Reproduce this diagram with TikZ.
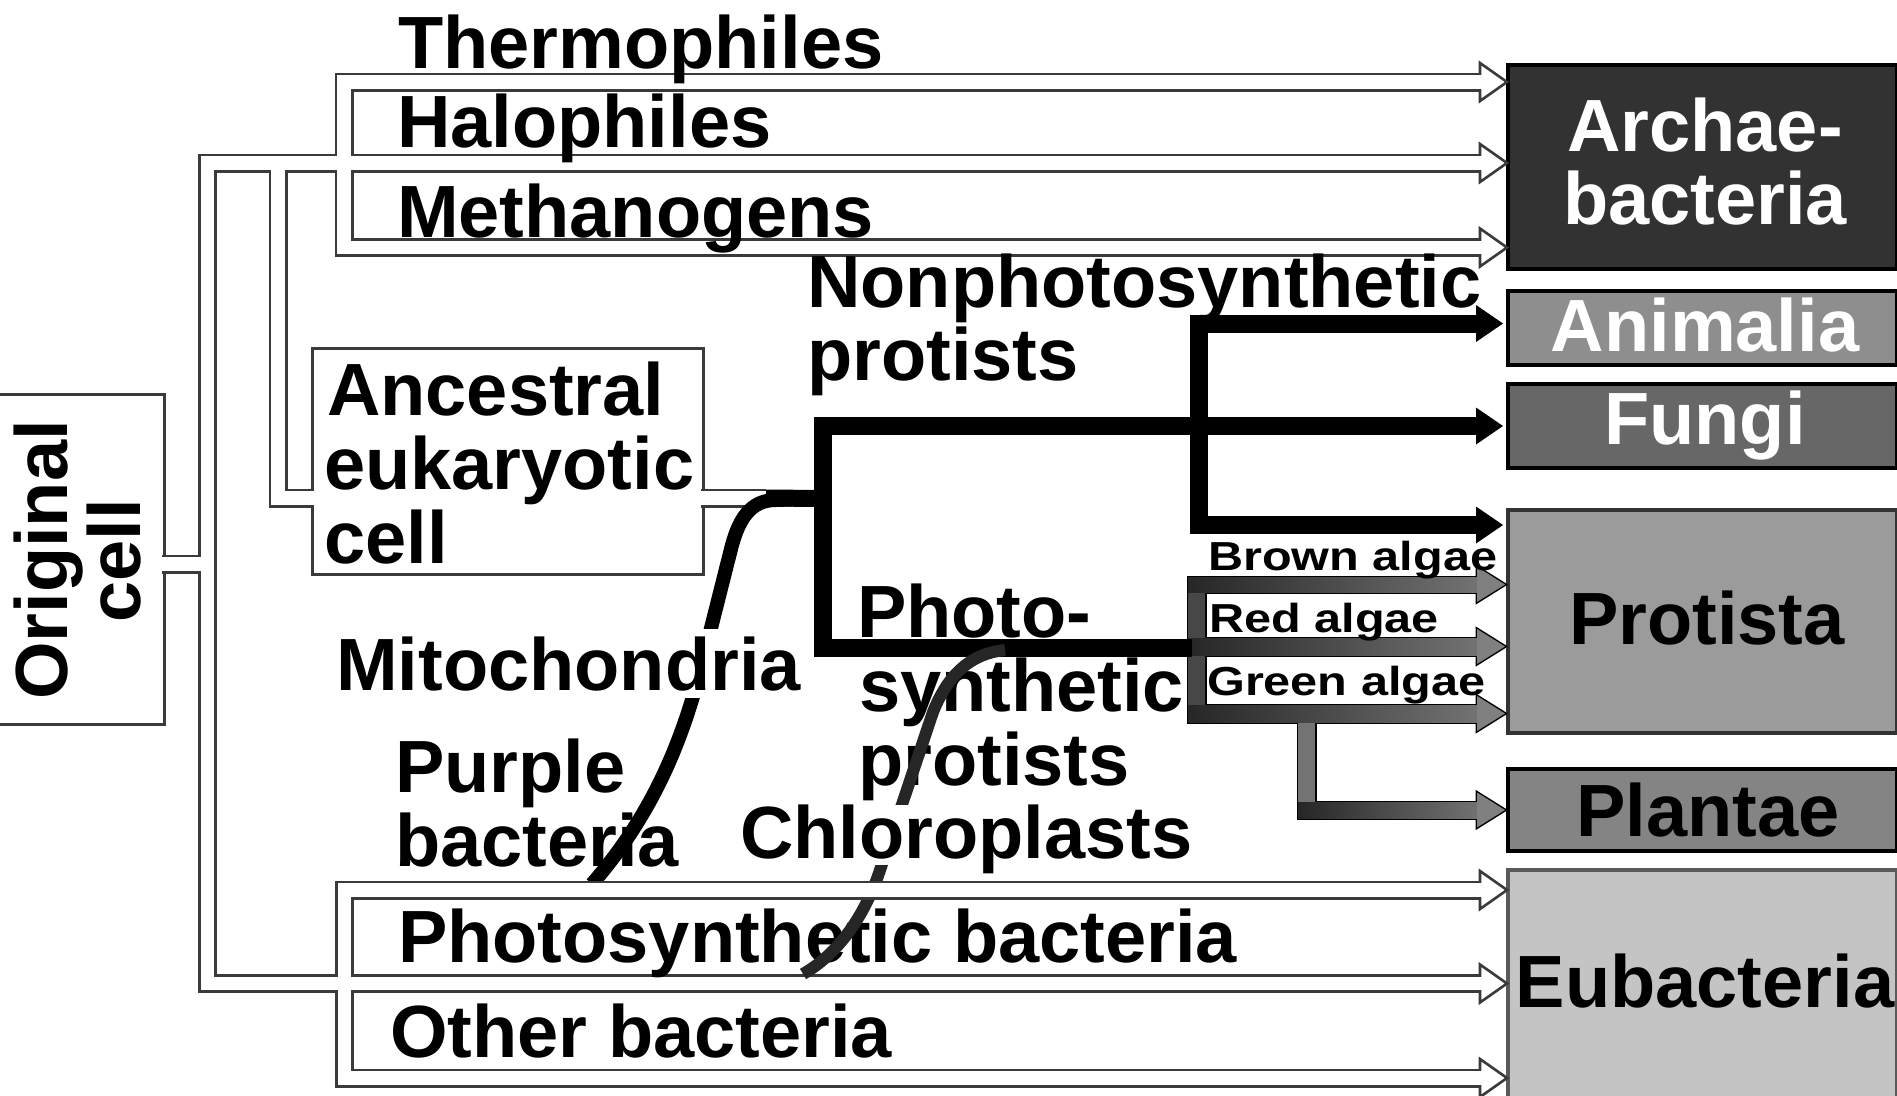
\documentclass[tikz,border=0pt]{standalone}
\usepackage{fontspec}
\setmainfont{Liberation Sans}
\usepackage{graphicx}
\usetikzlibrary{calc}
\definecolor{pipecol}{HTML}{3A3A3A}
\definecolor{archaecol}{HTML}{323232}
\definecolor{animcol}{HTML}{8E8E8E}
\definecolor{fungicol}{HTML}{676767}
\definecolor{protcol}{HTML}{9B9B9B}
\definecolor{plantcol}{HTML}{848484}
\definecolor{eubcol}{HTML}{C4C4C4}
\definecolor{chlorocol}{HTML}{262626}
\begin{document}
\begin{tikzpicture}[x=1pt,y=-1pt,
  bigtxt/.style={font=\fontsize{74}{80}\selectfont\bfseries, inner sep=0pt},
  lab/.style={bigtxt, anchor=base west},
  smalltxt/.style={font=\fontsize{40.5}{45}\selectfont\bfseries, inner sep=0pt, anchor=base west},
  ktxt/.style={bigtxt, anchor=base},
  kbox/.style={draw=black, line width=3.5pt, anchor=north west, minimum width=389pt, inner sep=0pt},
  cellbox/.style={draw=pipecol, line width=3pt, fill=white, anchor=north west, inner sep=0pt},
  pipeout/.style={line width=19pt, draw=pipecol, line join=miter, line cap=butt},
  pipein/.style={line width=13.5pt, draw=white, line join=miter, line cap=butt, shorten >=-4pt, shorten <=-4pt},
  openhead/.style={draw=pipecol, line width=2.6pt, fill=white, line join=miter},
  blackbar/.style={line width=18pt, draw=black, line join=miter, line cap=butt},
  algout/.style={draw=black, line width=3pt, line join=miter},
  algfill/.style={left color=black!85, middle color=black!30, right color=black!55},
  mitocurve/.style={line width=14pt, draw=black},
  chlorocurve/.style={line width=12pt, draw=chlorocol},
]
\fill[white] (0,0) rectangle (1897,1095);
\useasboundingbox (0,0) rectangle (1897,1095);

% ---------- boxes ----------
\node[cellbox, minimum width=171pt, minimum height=330pt] (orig) at (-8,393) {};
\node[cellbox, minimum width=391pt, minimum height=226pt] (anc) at (311,347) {};

\node[kbox, fill=archaecol, minimum height=204pt] (archae) at (1506,63) {};
\node[kbox, fill=animcol, minimum height=74pt] (anim) at (1506,289) {};
\node[kbox, fill=fungicol, minimum height=84pt] (fungi) at (1506,382) {};
\node[kbox, fill=protcol, draw=black!80, minimum height=223pt] (prot) at (1506,508) {};
\node[kbox, fill=plantcol, minimum height=82pt] (plant) at (1506,767) {};
\node[kbox, fill=eubcol, draw=black!65, minimum height=240pt] (eub) at (1506,868) {};

% ---------- pipe coordinates ----------
\coordinate (oEx) at (162,564);
\coordinate (spJ) at (207.5,564);
\coordinate (spT) at (207.5,163);
\coordinate (spB) at (207.5,983.5);
\coordinate (arT) at (344,82);
\coordinate (arB) at (344,247.5);
\coordinate (euT) at (344.5,890);
\coordinate (euB) at (344.5,1078);
\coordinate (ancT) at (278,163);
\coordinate (ancM) at (278,498);
\coordinate (ancIn) at (312,498);
\coordinate (ancOut) at (701,498);
\coordinate (mitoJ) at (766,498);
\coordinate (hTh) at (1480,82);
\coordinate (hHa) at (1480,163);
\coordinate (hMe) at (1480,247.5);
\coordinate (hPh) at (1480,890);
\coordinate (hMi) at (1480,983.5);
\coordinate (hOt) at (1480,1078);

% ---------- pipes: dark pass ----------
\draw[pipeout] (oEx) -- (spJ);
\draw[pipeout] (hHa) -- (spT) -- (spB) -- (hMi);
\draw[pipeout] (hTh) -- (arT) -- (arB) -- (hMe);
\draw[pipeout] (hPh) -- (euT) -- (euB) -- (hOt);
\draw[pipeout] (ancT) -- (ancM) -- (ancIn);
\draw[pipeout] (ancOut) -- (mitoJ);
% open arrow heads
\foreach \c in {hTh,hHa,hMe,hPh,hMi,hOt}
  \draw[openhead] ($(\c)+(0,-19)$) -- ($(\c)+(27,0)$) -- ($(\c)+(0,19)$) -- cycle;
% ---------- pipes: white pass ----------
\draw[pipein] (oEx) -- (spJ);
\draw[pipein] (hHa) -- (spT) -- (spB) -- (hMi);
\draw[pipein] (hTh) -- (arT) -- (arB) -- (hMe);
\draw[pipein] (hPh) -- (euT) -- (euB) -- (hOt);
\draw[pipein] (ancT) -- (ancM) -- (ancIn);
\draw[pipein] (ancOut) -- (mitoJ);

% ---------- gradient algae arrows ----------
\draw[algout] (1188,577) rectangle (1205,722);
\draw[algout] (1188,577) rectangle (1481,592);
\draw[algout] (1188,638.5) rectangle (1481,655);
\draw[algout] (1188,705.5) rectangle (1481,722);
\draw[algout] (1298,714) rectangle (1315,818);
\draw[algout] (1298,802) rectangle (1481,818);
\foreach \y in {584.5,646.5,713.5,810}
  \draw[algout] (1477,\y-17.5) -- (1505,\y) -- (1477,\y+17.5) -- cycle;
\fill[black!72] (1188,577) rectangle (1205,722);
\fill[black!55] (1298,714) rectangle (1315,818);
\shade[algfill] (1188,577) rectangle (1481,592);
\shade[algfill] (1188,638.5) rectangle (1481,655);
\shade[algfill] (1188,705.5) rectangle (1481,722);
\shade[algfill] (1298,802) rectangle (1481,818);
\foreach \y in {584.5,646.5,713.5,810}
  \fill[black!50] (1477,\y-17.5) -- (1505,\y) -- (1477,\y+17.5) -- cycle;

% ---------- thick black lines ----------
\coordinate (fArr) at (1480,426);
\coordinate (k1T) at (822.5,426);
\coordinate (k1M) at (822.5,498.5);
\coordinate (k1B) at (822.5,647.5);
\coordinate (k1R) at (1192,647.5);
\coordinate (aArr) at (1480,323.5);
\coordinate (k2T) at (1199,323.5);
\coordinate (k2B) at (1199,525);
\coordinate (pArr) at (1480,525);
\draw[blackbar] (fArr) -- (k1T) -- (k1B) -- (k1R);
\draw[blackbar] (aArr) -- (k2T) -- (k2B) -- (pArr);
\draw[blackbar, line width=17pt] (mitoJ) -- (k1M);
\foreach \c in {aArr,fArr,pArr}
  \fill[black] ($(\c)+(-4,-18.5)$) -- ($(\c)+(23,0)$) -- ($(\c)+(-4,18.5)$) -- cycle;

% ---------- labels ----------
\node[bigtxt, rotate=90, anchor=base] (orig1) at (67,560) {Original};
\node[bigtxt, rotate=90, anchor=base] (orig2) at (140,561) {cell};

\node[lab] (thermo) at (398,68) {Thermophiles};
\node[lab] (halo) at (397,147) {Halophiles};
\node[lab] (metha) at (397,237) {Methanogens};
\node[lab] (nonph1) at (807,307) {Nonphotosynthetic};
\node[lab] (nonph2) at (807,380.5) {protists};
\node[lab] (anc1) at (327,415.5) {Ancestral};
\node[lab] (anc2) at (324,489) {eukaryotic};
\node[lab] (anc3) at (324,563) {cell};
\node[lab] (purp1) at (395,792) {Purple};
\node[lab] (purp2) at (395,866) {bacteria};
\node[lab] (ph1) at (857,637) {Photo-};
\node[lab] (ph2) at (859,711) {synthetic};
\node[lab] (ph3) at (858,785) {protists};
\node[lab] (phbac) at (398,962) {Photosynthetic bacteria};
\node[lab] (othbac) at (390,1057) {Other bacteria};
\node[smalltxt] (brown) at (1208,570) {\scalebox{1.2}[1]{Brown algae}};
\node[smalltxt] (red) at (1209,632) {\scalebox{1.2}[1]{Red algae}};
\node[smalltxt] (green) at (1207,695) {\scalebox{1.2}[1]{Green algae}};

\node[ktxt, text=white] (tarch1) at (1705,151) {Archae-};
\node[ktxt, text=white] (tarch2) at (1705,224.5) {bacteria};
\node[ktxt, text=white] (tanim) at (1705,351) {Animalia};
\node[ktxt, text=white] (tfungi) at (1705,444) {Fungi};
\node[ktxt] (tprot) at (1707,644) {Protista};
\node[ktxt] (tplant) at (1708,836) {Plantae};
\node[ktxt] (teub) at (1705,1007) {Eubacteria};

% ---------- endosymbiosis curves ----------
\coordinate (mitoEnd) at (592,884);
\coordinate (chlStart) at (1005,650);
\coordinate (chlEnd) at (803,974);
\draw[mitocurve] (k1M) -- (776,500) .. controls (750,500) and (739,520) .. (732,545)
   -- (708,640) .. controls (690,715) and (665,800) .. (mitoEnd);
\draw[chlorocurve] (chlStart) .. controls (966,654) and (946,680) .. (933,712)
   -- (879,873) .. controls (868,905) and (845,950) .. (chlEnd);
% pipe passes over the curves
\draw[pipeout] (560,890) -- (960,890);
\draw[pipein, shorten >=0pt, shorten <=0pt] (560,890) -- (960,890);

\node[lab, fill=white, inner xsep=2pt, inner ysep=7pt] (mito) at (334,690) {Mitochondria};
\node[lab, fill=white, inner xsep=0pt, inner ysep=0pt, text depth=6pt] (chloro) at (740,858.6) {Chloroplasts};
\end{tikzpicture}
\end{document}
